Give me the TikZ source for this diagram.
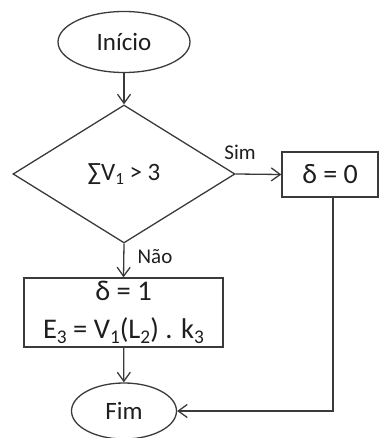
\documentclass[tikz,border=0pt]{standalone}
\usepackage{fontspec}
\setmainfont{Carlito}
\usetikzlibrary{shapes.geometric,arrows.meta}
\newcommand\dn[1]{\raisebox{-0.35ex}{\scalebox{0.68}{#1}}}
\definecolor{ln}{HTML}{3A3A3A}
\definecolor{tx}{HTML}{1E1E1E}
\tikzset{
  base/.style={draw=ln, line width=1.3pt, text=tx, inner sep=0pt},
  term/.style={base, ellipse},
  cond/.style={base, diamond},
  proc/.style={base, rectangle, align=center},
  arr/.style={draw=ln, line width=1.3pt, -{Straight Barb[length=9pt,width=13pt,line width=1.3pt]}},
  lbl/.style={text=tx, inner sep=0pt, font=\fontsize{21}{24}\selectfont},
  big/.style={font=\fontsize{25}{30}\selectfont},
}
\begin{document}
\begin{tikzpicture}[x=1pt,y=-1pt]
\useasboundingbox (0,0) rectangle (379,438);
\node[term, big, minimum width=132, minimum height=61] (start) at (124,42) {Início};
\node[cond, big, minimum width=222, minimum height=138] (dec) at (124,174) {∑V\dn{1} > 3};
\node[proc, minimum width=96, minimum height=45, font=\fontsize{28}{32}\selectfont] (s0) at (330,174.5) {δ = 0};
\node[proc, minimum width=199, minimum height=69, font=\fontsize{28.5}{38}\selectfont] (s1) at (123.5,312.5) {δ = 1\\E\dn{3} = V\dn{1}(L\dn{2}) . k\dn{3}};
\node[term, big, minimum width=105, minimum height=56] (end) at (124,411) {Fim};
\coordinate (c) at (333,411);
\node[lbl] (sim) at (240,152) {Sim};
\node[lbl] (nao) at (155,257) {Não};
\draw[arr] (start) -- (dec);
\draw[arr] (dec.east) -- (s0.west);
\draw[arr] (dec.south) -- (s1.north);
\draw[arr] (s1) -- (end);
\draw[arr] (s0.south -| c) -- (c) -- (end.east);
\end{tikzpicture}
\end{document}
